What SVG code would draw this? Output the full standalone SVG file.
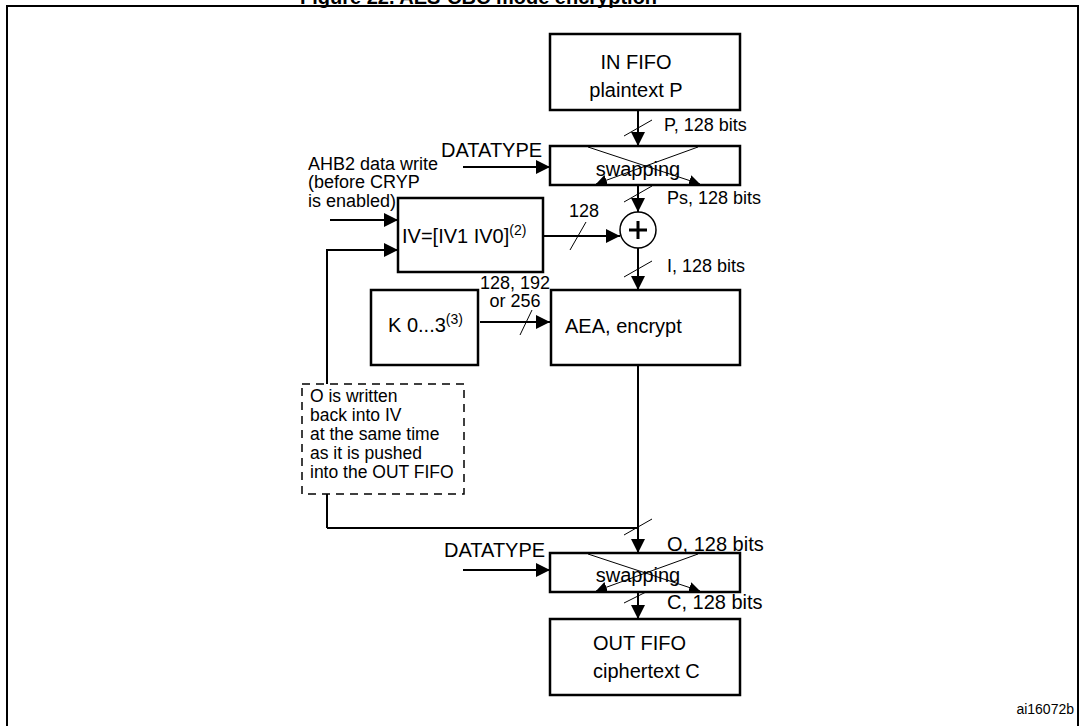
<svg xmlns="http://www.w3.org/2000/svg" width="1085" height="726" viewBox="0 0 1085 726">
<defs>
<marker id="ah" viewBox="0 0 10 10" refX="10" refY="5" markerWidth="11" markerHeight="11" markerUnits="userSpaceOnUse" orient="auto"><path d="M0,0 L10,5 L0,10 z" fill="#000"/></marker>
<marker id="ah2" viewBox="0 0 10 10" refX="10" refY="5" markerWidth="14" markerHeight="14" markerUnits="userSpaceOnUse" orient="auto"><path d="M0,0 L10,5 L0,10 z" fill="#000"/></marker>
<style>
text{font-family:"Liberation Sans",Arial,sans-serif;font-size:18px;fill:#000}
.box{fill:#fff;stroke:#000;stroke-width:2.5}
.ln{fill:none;stroke:#000;stroke-width:2}
.thin{fill:none;stroke:#000;stroke-width:1}
.big{font-size:20px}
.sup{font-size:14px}
.note{font-size:17.5px}
</style>
</defs>
<rect width="1085" height="726" fill="#fff"/>
<text x="300" y="4" style="font-weight:bold;font-size:20px">Figure 22. AES-CBC mode encryption</text>
<path d="M7,740 V6 H1078 V740" fill="none" stroke="#000" stroke-width="2"/>
<text x="1074" y="714" text-anchor="end" style="font-size:14px">ai16072b</text>

<g id="connectors">
<path class="ln" d="M638,110 V146" marker-end="url(#ah2)"/>
<path class="thin" d="M624,136 L652,120"/>
<path class="ln" d="M463,167 H550" marker-end="url(#ah2)"/>
<path class="ln" d="M638,185 V212" marker-end="url(#ah2)"/>
<path class="thin" d="M624,202 L652,186"/>
<path class="ln" d="M543,236 H620" marker-end="url(#ah2)"/>
<path class="thin" d="M570,250 L586,222"/>
<path class="ln" d="M330,220 H398" marker-end="url(#ah2)"/>
<path class="ln" d="M327,528 V250 H398" marker-end="url(#ah2)"/>
<path class="ln" d="M327,528 H638"/>
<path class="ln" d="M638,248 V290" marker-end="url(#ah2)"/>
<path class="thin" d="M624,277 L652,261"/>
<path class="ln" d="M480,322 H550" marker-end="url(#ah2)"/>
<path class="thin" d="M520,335 L532,310"/>
<path class="ln" d="M638,365 V553" marker-end="url(#ah2)"/>
<path class="thin" d="M624,535 L652,519"/>
<path class="ln" d="M463,570 H550" marker-end="url(#ah2)"/>
<path class="ln" d="M638,592 V619" marker-end="url(#ah2)"/>
<path class="thin" d="M624,603 L652,589"/>
</g>

<g id="infifo"><rect class="box" x="550" y="34" width="190" height="76"/>
<text x="636" y="69" text-anchor="middle" class="big">IN FIFO</text>
<text x="636" y="97" text-anchor="middle" class="big">plaintext P</text></g>
<text x="664" y="131">P, 128 bits</text>

<g id="swap1"><rect class="box" x="550" y="146" width="190" height="39"/>
<text x="638" y="176" text-anchor="middle" class="big">swapping</text>
<path class="thin" d="M588,147 L700,184" marker-end="url(#ah)"/>
<path class="thin" d="M698,147 L596,184" marker-end="url(#ah)"/></g>
<text x="441" y="157" class="big">DATATYPE</text>
<text x="667" y="204">Ps, 128 bits</text>

<g id="xor"><circle cx="638" cy="230" r="18" fill="#fff" stroke="#000" stroke-width="1.5"/>
<path d="M629,230 H647 M638,221 V239" stroke="#000" stroke-width="3"/></g>

<g id="iv"><rect class="box" x="398" y="198" width="145" height="74"/>
<text x="402" y="243" class="big">IV=[IV1 IV0]<tspan dy="-8" class="sup">(2)</tspan></text></g>
<text x="584" y="217" text-anchor="middle">128</text>
<text x="308" y="170">AHB2 data write</text>
<text x="308" y="188">(before CRYP</text>
<text x="308" y="207">is enabled)</text>
<text x="667" y="272">I, 128 bits</text>

<g id="key"><rect class="box" x="371" y="290" width="107" height="75"/>
<text x="388" y="332" class="big">K 0...3<tspan dy="-8" class="sup">(3)</tspan></text></g>
<text x="515" y="289" text-anchor="middle">128, 192</text>
<text x="515" y="307" text-anchor="middle">or 256</text>

<g id="aea"><rect class="box" x="551" y="290" width="189" height="75"/>
<text x="565" y="333" class="big">AEA, encrypt</text></g>

<g id="note"><rect x="302" y="384" width="162" height="110" fill="#fff" stroke="#000" stroke-width="1.5" stroke-dasharray="8,6"/>
<text x="310" y="402" class="note">O is written</text>
<text x="310" y="421" class="note">back into IV</text>
<text x="310" y="440" class="note">at the same time</text>
<text x="310" y="459" class="note">as it is pushed</text>
<text x="310" y="478" class="note">into the OUT FIFO</text></g>
<text x="667" y="551" class="big">O, 128 bits</text>

<g id="swap2"><rect class="box" x="550" y="553" width="190" height="39"/>
<text x="638" y="582" text-anchor="middle" class="big">swapping</text>
<path class="thin" d="M588,554 L700,591" marker-end="url(#ah)"/>
<path class="thin" d="M698,554 L596,591" marker-end="url(#ah)"/></g>
<text x="444" y="557" class="big">DATATYPE</text>
<text x="667" y="609" class="big">C, 128 bits</text>

<g id="outfifo"><rect class="box" x="550" y="619" width="190" height="76"/>
<text x="593" y="650" class="big">OUT FIFO</text>
<text x="593" y="678" class="big">ciphertext C</text></g>
</svg>
